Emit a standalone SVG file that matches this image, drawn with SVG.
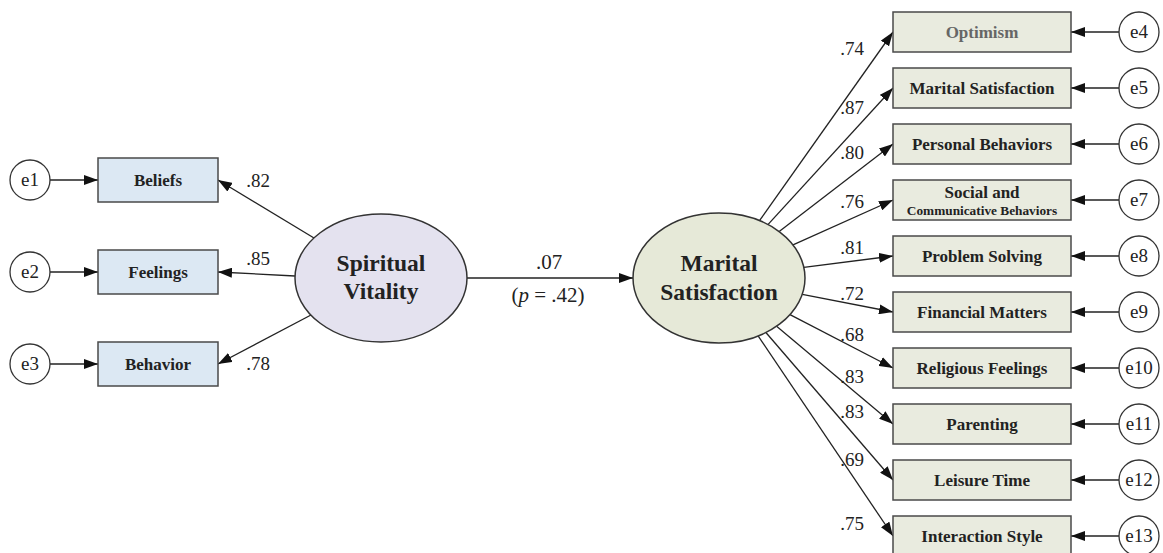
<svg xmlns="http://www.w3.org/2000/svg" width="1163" height="553" viewBox="0 0 1163 553">
<style>
.bg{fill:#ffffff}
.box{stroke:#4a4a4a;stroke-width:1.5}
.bl{fill:#dce8f3}
.gr{fill:#e9ebdf}
.err{fill:#ffffff;stroke:#333;stroke-width:1.3}
.lbl{font-family:"Liberation Serif",serif;font-weight:bold;font-size:17px;fill:#222;text-anchor:middle}
.sm{font-size:13.3px}
.big{font-family:"Liberation Serif",serif;font-weight:bold;font-size:23.5px;fill:#222;text-anchor:middle}
.num{font-family:"Liberation Serif",serif;font-size:19px;fill:#222;text-anchor:middle}
.mid{font-size:21px}
.etx{font-family:"Liberation Serif",serif;font-size:19px;fill:#222;text-anchor:middle}
.ln{stroke:#222;stroke-width:1.3;fill:none;marker-end:url(#ah)}
</style>
<defs>
<marker id="ah" markerUnits="userSpaceOnUse" markerWidth="14" markerHeight="10" refX="14" refY="5" orient="auto">
<path d="M0,0 L14,5 L0,10 Z" fill="#111"/>
</marker>
</defs>
<rect class="bg" x="0" y="0" width="1163" height="553"/>

<g id="connectors">
<line class="ln" x1="50" y1="180" x2="98" y2="180"/>
<line class="ln" x1="50" y1="272" x2="98" y2="272"/>
<line class="ln" x1="50" y1="364" x2="98" y2="364"/>
<line class="ln" x1="314" y1="238" x2="218" y2="180"/>
<line class="ln" x1="295" y1="276" x2="218" y2="272"/>
<line class="ln" x1="311" y1="315" x2="218" y2="364"/>
<line class="ln" x1="467" y1="278" x2="633" y2="278"/>
<line class="ln" x1="759.5" y1="220.7" x2="893" y2="32"/>
<line class="ln" x1="767.9" y1="224.6" x2="893" y2="88"/>
<line class="ln" x1="779.2" y1="231.6" x2="893" y2="144"/>
<line class="ln" x1="793" y1="244.8" x2="893" y2="200"/>
<line class="ln" x1="803.8" y1="267.3" x2="893" y2="256"/>
<line class="ln" x1="802.3" y1="294.3" x2="893" y2="312"/>
<line class="ln" x1="790" y1="314.7" x2="893" y2="368"/>
<line class="ln" x1="776.6" y1="326.3" x2="893" y2="424"/>
<line class="ln" x1="765.9" y1="332.5" x2="893" y2="480"/>
<line class="ln" x1="758.1" y1="335.9" x2="893" y2="536"/>
<line class="ln" x1="1119" y1="32" x2="1071" y2="32"/>
<line class="ln" x1="1119" y1="88" x2="1071" y2="88"/>
<line class="ln" x1="1119" y1="144" x2="1071" y2="144"/>
<line class="ln" x1="1119" y1="200" x2="1071" y2="200"/>
<line class="ln" x1="1119" y1="256" x2="1071" y2="256"/>
<line class="ln" x1="1119" y1="312" x2="1071" y2="312"/>
<line class="ln" x1="1119" y1="368" x2="1071" y2="368"/>
<line class="ln" x1="1119" y1="424" x2="1071" y2="424"/>
<line class="ln" x1="1119" y1="480" x2="1071" y2="480"/>
<line class="ln" x1="1119" y1="536" x2="1071" y2="536"/>
</g>

<g id="labels">
<text class="num" x="258" y="187">.82</text>
<text class="num" x="258" y="265">.85</text>
<text class="num" x="258" y="370">.78</text>
<text class="num mid" x="549" y="269">.07</text>
<text class="num mid" x="548" y="302">(<tspan font-style="italic">p</tspan> = .42)</text>
<text class="num" x="852" y="55">.74</text>
<text class="num" x="852" y="114">.87</text>
<text class="num" x="852" y="159">.80</text>
<text class="num" x="852" y="208">.76</text>
<text class="num" x="852" y="254">.81</text>
<text class="num" x="852" y="300">.72</text>
<text class="num" x="852" y="341">.68</text>
<text class="num" x="852" y="383">.83</text>
<text class="num" x="852" y="418">.83</text>
<text class="num" x="852" y="466">.69</text>
<text class="num" x="852" y="530">.75</text>
</g>

<g id="e1"><circle class="err" cx="30" cy="180" r="20"/><text class="etx" x="30" y="186">e1</text></g>
<g id="e2"><circle class="err" cx="30" cy="272" r="20"/><text class="etx" x="30" y="278">e2</text></g>
<g id="e3"><circle class="err" cx="30" cy="364" r="20"/><text class="etx" x="30" y="370">e3</text></g>

<g id="beliefs"><rect class="box bl" x="98" y="158" width="120" height="44"/><text class="lbl" x="158" y="186">Beliefs</text></g>
<g id="feelings"><rect class="box bl" x="98" y="250" width="120" height="44"/><text class="lbl" x="158" y="278">Feelings</text></g>
<g id="behavior"><rect class="box bl" x="98" y="342" width="120" height="44"/><text class="lbl" x="158" y="370">Behavior</text></g>

<g id="spiritual-vitality"><ellipse cx="381" cy="278" rx="86" ry="64" fill="#e4e2ef" stroke="#333" stroke-width="1.5"/><text class="big" x="381" y="271">Spiritual</text><text class="big" x="381" y="299">Vitality</text></g>

<g id="marital-satisfaction-latent"><ellipse cx="719" cy="278" rx="86" ry="65" fill="#e6e9d8" stroke="#333" stroke-width="1.5"/><text class="big" x="719" y="271">Marital</text><text class="big" x="719" y="300">Satisfaction</text></g>

<g id="optimism"><rect class="box gr" x="893" y="12" width="178" height="40"/><text class="lbl" x="982" y="38" style="fill:#666">Optimism</text></g>
<g id="marital-satisfaction"><rect class="box gr" x="893" y="68" width="178" height="40"/><text class="lbl" x="982" y="94">Marital Satisfaction</text></g>
<g id="personal-behaviors"><rect class="box gr" x="893" y="124" width="178" height="40"/><text class="lbl" x="982" y="150">Personal Behaviors</text></g>
<g id="social"><rect class="box gr" x="893" y="180" width="178" height="40"/><text class="lbl" x="982" y="198">Social and</text><text class="lbl sm" x="982" y="215">Communicative Behaviors</text></g>
<g id="problem-solving"><rect class="box gr" x="893" y="236" width="178" height="40"/><text class="lbl" x="982" y="262">Problem Solving</text></g>
<g id="financial"><rect class="box gr" x="893" y="292" width="178" height="40"/><text class="lbl" x="982" y="318">Financial Matters</text></g>
<g id="religious"><rect class="box gr" x="893" y="348" width="178" height="40"/><text class="lbl" x="982" y="374">Religious Feelings</text></g>
<g id="parenting"><rect class="box gr" x="893" y="404" width="178" height="40"/><text class="lbl" x="982" y="430">Parenting</text></g>
<g id="leisure"><rect class="box gr" x="893" y="460" width="178" height="40"/><text class="lbl" x="982" y="486">Leisure Time</text></g>
<g id="interaction"><rect class="box gr" x="893" y="516" width="178" height="40"/><text class="lbl" x="982" y="542">Interaction Style</text></g>

<g id="e4"><circle class="err" cx="1139" cy="32" r="20"/><text class="etx" x="1139" y="38">e4</text></g>
<g id="e5"><circle class="err" cx="1139" cy="88" r="20"/><text class="etx" x="1139" y="94">e5</text></g>
<g id="e6"><circle class="err" cx="1139" cy="144" r="20"/><text class="etx" x="1139" y="150">e6</text></g>
<g id="e7"><circle class="err" cx="1139" cy="200" r="20"/><text class="etx" x="1139" y="206">e7</text></g>
<g id="e8"><circle class="err" cx="1139" cy="256" r="20"/><text class="etx" x="1139" y="262">e8</text></g>
<g id="e9"><circle class="err" cx="1139" cy="312" r="20"/><text class="etx" x="1139" y="318">e9</text></g>
<g id="e10"><circle class="err" cx="1139" cy="368" r="20"/><text class="etx" x="1139" y="374">e10</text></g>
<g id="e11"><circle class="err" cx="1139" cy="424" r="20"/><text class="etx" x="1139" y="430">e11</text></g>
<g id="e12"><circle class="err" cx="1139" cy="480" r="20"/><text class="etx" x="1139" y="486">e12</text></g>
<g id="e13"><circle class="err" cx="1139" cy="536" r="20"/><text class="etx" x="1139" y="542">e13</text></g>
</svg>
